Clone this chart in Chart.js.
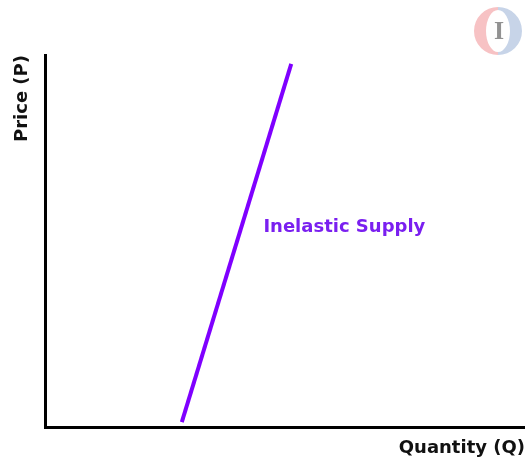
<!DOCTYPE html>
<html>
<head>
<meta charset="utf-8">
<script src="https://cdn.jsdelivr.net/npm/chart.js@4/dist/chart.umd.min.js"></script>
<style>
html,body{margin:0;padding:0;background:#fff;}
#wrap{position:relative;width:525px;height:459px;}
</style>
</head>
<body>
<div id="wrap"><canvas id="c" width="525" height="459"></canvas></div>
<script>
// Data (axis units 0..100, no ticks shown)
const supplyQuantity = [28.5, 51.3];
const supplyPrice = [1.3, 97.6];
const curveLabel = "Inelastic Supply";
const curveLabelAt = [45.5, 53.7]; // [quantity, price] where the label sits
const xTitle = "Quantity (Q)";
const yTitle = "Price (P)";

const purple = "#7f00ff";

const labelPlugin = {
  id: "curveLabel",
  afterDatasetsDraw(chart) {
    const {ctx, scales} = chart;
    const x = scales.x.getPixelForValue(curveLabelAt[0]);
    const y = scales.y.getPixelForValue(curveLabelAt[1]);
    ctx.save();
    ctx.font = "bold 18px 'DejaVu Sans'";
    ctx.fillStyle = "#7a1ff0";
    ctx.textAlign = "left";
    ctx.textBaseline = "middle";
    ctx.fillText(curveLabel, x, y);
    ctx.restore();
  }
};

const logoPlugin = {
  id: "logo",
  afterDraw(chart) {
    const ctx = chart.ctx;
    const cx = 498, cy = 31, rx = 24, ry = 24, irx = 12, iry = 21;
    ctx.save();
    // red left crescent
    ctx.beginPath();
    ctx.ellipse(cx, cy, rx, ry, 0, Math.PI * 0.5, Math.PI * 1.5, false);
    ctx.ellipse(cx, cy, irx, iry, 0, Math.PI * 1.5, Math.PI * 0.5, true);
    ctx.closePath();
    ctx.fillStyle = "rgba(238,120,125,0.45)";
    ctx.fill();
    // blue right crescent
    ctx.beginPath();
    ctx.ellipse(cx, cy, rx, ry, 0, -Math.PI * 0.5, Math.PI * 0.5, false);
    ctx.ellipse(cx, cy, irx, iry, 0, Math.PI * 0.5, -Math.PI * 0.5, true);
    ctx.closePath();
    ctx.fillStyle = "rgba(130,160,205,0.45)";
    ctx.fill();
    // grey I
    ctx.font = "bold 26px 'Liberation Serif'";
    ctx.fillStyle = "rgba(110,110,110,0.75)";
    ctx.textAlign = "center";
    ctx.textBaseline = "middle";
    ctx.fillText("I", cx + 1, cy + 1);
    ctx.restore();
  }
};

new Chart(document.getElementById("c"), {
  type: "scatter",
  data: {
    datasets: [{
      data: supplyQuantity.map((q, i) => ({x: q, y: supplyPrice[i]})),
      showLine: true,
      borderColor: purple,
      backgroundColor: purple,
      borderWidth: 4,
      pointRadius: 0,
      tension: 0
    }]
  },
  options: {
    responsive: false,
    animation: false,
    layout: {padding: {top: 55, right: 0, left: 0, bottom: 0}},
    plugins: {legend: {display: false}, tooltip: {enabled: false}},
    scales: {
      x: {
        type: "linear", min: 0, max: 100,
        afterFit(s) { s.height = 32; },
        ticks: {display: false},
        grid: {display: true, color: "rgba(0,0,0,0)", drawOnChartArea: false, drawTicks: false},
        border: {display: true, color: "#000", width: 3},
        title: {display: true, text: xTitle, align: "end", color: "#111",
          font: {family: "'DejaVu Sans'", size: 18, weight: "bold"}, padding: {top: 2.2, bottom: 0}}
      },
      y: {
        type: "linear", min: 0, max: 100,
        afterFit(s) { s.width = 45; },
        ticks: {display: false},
        grid: {display: true, color: "rgba(0,0,0,0)", drawOnChartArea: false, drawTicks: false},
        border: {display: true, color: "#000", width: 3},
        title: {display: true, text: yTitle, align: "end", color: "#111",
          font: {family: "'DejaVu Sans'", size: 18, weight: "bold"}, padding: {top: 11.2, bottom: 0}}
      }
    }
  },
  plugins: [labelPlugin, logoPlugin]
});
</script>
</body>
</html>
